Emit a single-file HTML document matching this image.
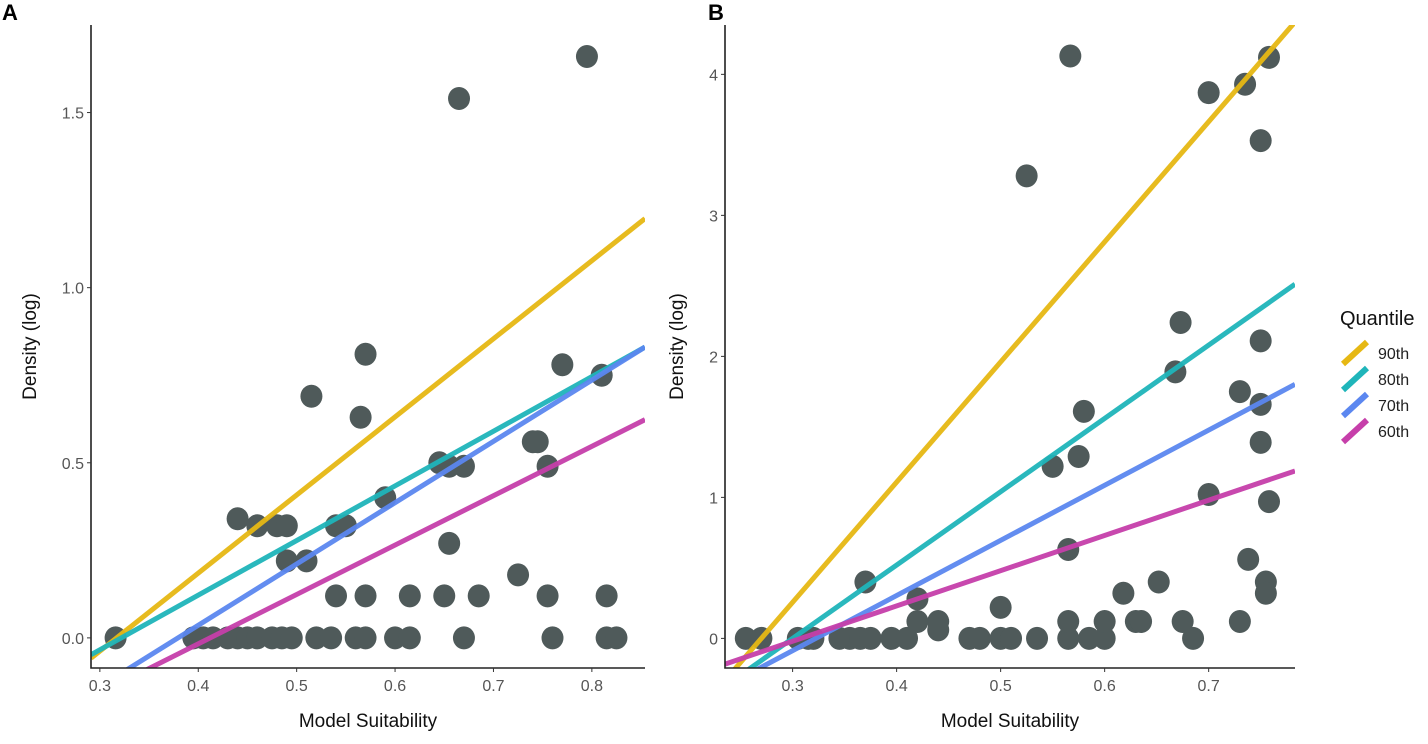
<!DOCTYPE html>
<html><head><meta charset="utf-8"><style>
body{margin:0;background:#fff;}
svg text{font-family:"Liberation Sans",sans-serif;}
</style></head><body>
<svg id="chart" width="1428" height="739" xmlns="http://www.w3.org/2000/svg"></svg>
<script>
// Panel A data
const aX = [0.316,0.395,0.405,0.415,0.43,0.44,0.45,0.46,0.475,0.485,0.495,0.52,0.535,0.56,0.57,0.60,0.615,0.67,0.76,0.815,0.825,
 0.44,0.46,0.48,0.49,0.49,0.51,0.515,0.54,0.55,0.54,0.565,0.57,0.57,0.59,0.615,0.645,0.65,0.655,0.655,0.67,0.685,0.665,0.725,0.74,0.745,0.77,0.755,0.755,0.795,0.81,0.815];
const aY = [0,0,0,0,0,0,0,0,0,0,0,0,0,0,0,0,0,0,0,0,0,
 0.34,0.32,0.32,0.32,0.22,0.22,0.69,0.32,0.32,0.12,0.63,0.81,0.12,0.40,0.12,0.50,0.12,0.27,0.49,0.49,0.12,1.54,0.18,0.56,0.56,0.78,0.49,0.12,1.66,0.75,0.12];
const aXTicks = [0.3,0.4,0.5,0.6,0.7,0.8];
const aYTicks = [0,0.5,1.0,1.5];
const aYTickLabels = ["0.0","0.5","1.0","1.5"];
// Panel B data
const bX = [0.255,0.27,0.305,0.315,0.32,0.345,0.355,0.365,0.375,0.395,0.41,0.47,0.48,0.5,0.51,0.535,0.565,0.585,0.60,0.685,
 0.37,0.42,0.42,0.44,0.44,0.5,0.565,0.6,0.618,0.63,0.635,0.652,0.675,0.73,0.738,0.755,0.755,0.758,0.70,0.565,0.55,0.575,0.58,0.525,0.567,0.668,0.673,0.70,0.735,0.758,0.75,0.75,0.73,0.75,0.75];
const bY = [0,0,0,0,0,0,0,0,0,0,0,0,0,0,0,0,0,0,0,0,
 0.4,0.28,0.12,0.12,0.06,0.22,0.12,0.12,0.32,0.12,0.12,0.4,0.12,0.12,0.56,0.4,0.32,0.97,1.02,0.63,1.22,1.29,1.61,3.28,4.13,1.89,2.24,3.87,3.93,4.12,3.53,2.11,1.75,1.66,1.39];
const bXTicks = [0.3,0.4,0.5,0.6,0.7];
const bYTicks = [0,1,2,3,4];
const bYTickLabels = ["0","1","2","3","4"];
// Quantile regression lines: [slope, intercept]
const quantiles = ["90th","80th","70th","60th"];
const colors = ["#E6B814","#1FB5BA","#5B87F0","#C63FAA"];
const aSlopes = [2.23,1.56,1.75,1.41];
const aIntercepts = [-0.707,-0.502,-0.664,-0.581];
const bSlopes = [8.52,5.2,3.91,2.5];
const bIntercepts = [-2.30,-1.56,-1.26,-0.77];

const NS="http://www.w3.org/2000/svg";
const svg=document.getElementById('chart');
function mk(tag,attrs,parent){const e=document.createElementNS(NS,tag);for(const k in attrs)e.setAttribute(k,attrs[k]);(parent||svg).appendChild(e);return e;}

function panel(cfg){
  const g=mk('g',{});
  
  
  const sx=v=>cfg.px0+(v-cfg.x0)/(cfg.x1-cfg.x0)*(cfg.px1-cfg.px0);
  const sy=v=>cfg.py0+(v-cfg.y0)/(cfg.y1-cfg.y0)*(cfg.py1-cfg.py0);
  const clip=mk('clipPath',{id:'clip'+cfg.id},g);
  mk('rect',{x:cfg.px0,y:cfg.py1,width:cfg.px1-cfg.px0,height:cfg.py0-cfg.py1},clip);
  const pts=mk('g',{'clip-path':'url(#clip'+cfg.id+')'},g);
  for(let i=0;i<cfg.xs.length;i++){
    const c=mk('ellipse',{cx:sx(cfg.xs[i]),cy:sy(cfg.ys[i]),rx:11,ry:11.5,fill:'#4F5A5A'},pts);
    
    
  }
  const lines=mk('g',{'clip-path':'url(#clip'+cfg.id+')'},g);
  for(let q=0;q<quantiles.length;q++){
    const xa=cfg.x0,xb=cfg.x1;
    const l=mk('line',{x1:sx(xa),y1:sy(cfg.sl[q]*xa+cfg.ic[q]),x2:sx(xb),y2:sy(cfg.sl[q]*xb+cfg.ic[q]),stroke:colors[q],'stroke-width':5,opacity:0.95},lines);
    
    
  }
  const ax=mk('path',{d:`M${cfg.px0},${cfg.py1} V${cfg.py0} H${cfg.px1}`,stroke:'#222',fill:'none','stroke-width':1.6},g);
  
  
  cfg.xt.forEach(v=>{
    mk('line',{x1:sx(v),x2:sx(v),y1:cfg.py0,y2:cfg.py0+4,stroke:'#333'},g);
    const t=mk('text',{x:sx(v),y:cfg.py0+23,'text-anchor':'middle','font-size':16,fill:'#555'},g);
    t.textContent=String(v);
    
    
  });
  cfg.yt.forEach((v,i)=>{
    mk('line',{x1:cfg.px0-4,x2:cfg.px0,y1:sy(v),y2:sy(v),stroke:'#333'},g);
    const t=mk('text',{x:cfg.px0-7,y:sy(v)+6,'text-anchor':'end','font-size':16,fill:'#555'},g);
    t.textContent=cfg.ytl[i];
    
    
  });
  const xt=mk('text',{x:(cfg.px0+cfg.px1)/2,y:727,'text-anchor':'middle','font-size':19,fill:'#111'},g);
  xt.textContent='Model Suitability';
  
  
  const yt=mk('text',{x:0,y:0,transform:`translate(${cfg.ytx},${(cfg.py0+cfg.py1)/2}) rotate(-90)`,'text-anchor':'middle','font-size':19,fill:'#111'},g);
  yt.textContent='Density (log)';
  
  
  const lab=mk('text',{x:cfg.labx,y:20,'font-size':22,'font-weight':'bold',fill:'#000'},g);
  lab.textContent=cfg.label;
  
  
}
panel({id:'A',name:'panel-a',label:'A',labx:2,xs:aX,ys:aY,sl:aSlopes,ic:aIntercepts,xt:aXTicks,yt:aYTicks,ytl:aYTickLabels,
  x0:0.291,x1:0.854,px0:91,px1:645,y0:-0.086,y1:1.75,py0:668,py1:25,ytx:36});
panel({id:'B',name:'panel-b',label:'B',labx:708,xs:bX,ys:bY,sl:bSlopes,ic:bIntercepts,xt:bXTicks,yt:bYTicks,ytl:bYTickLabels,
  x0:0.235,x1:0.783,px0:725,px1:1295,y0:-0.21,y1:4.35,py0:668,py1:25,ytx:683});

// legend
const lg=mk('g',{});


const lt=mk('text',{x:1340,y:325,'font-size':20,fill:'#111'},lg);
lt.textContent='Quantile';


quantiles.forEach((q,i)=>{
  const cy=353+i*26;
  const e=mk('g',{},lg);
  
  
  mk('line',{x1:1343,y1:cy+11,x2:1367,y2:cy-11,stroke:colors[i],'stroke-width':6},e);
  const t=mk('text',{x:1378,y:cy+6,'font-size':16,fill:'#222'},e);
  t.textContent=q;
});
</script>
</body></html>
